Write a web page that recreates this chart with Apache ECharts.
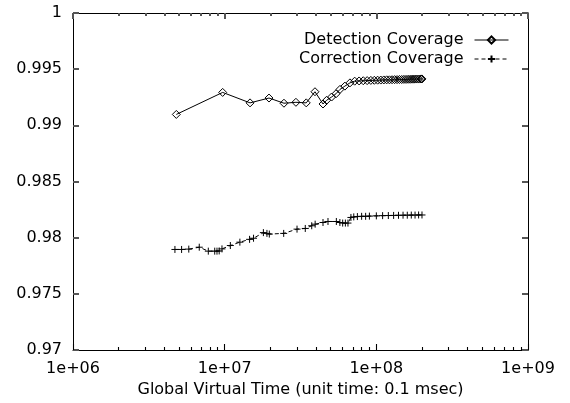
<!DOCTYPE html>
<html>
<head>
<meta charset="utf-8">
<script src="https://cdn.jsdelivr.net/npm/echarts@6/dist/echarts.min.js"></script>
<style>
  html, body { margin: 0; padding: 0; background: #fff; }
  #chart { width: 570px; height: 403px; }
</style>
</head>
<body>
<div id="chart"></div>
<script>
// Detection coverage (diamonds, solid line)
const detX = [4.8e6, 9.7e6, 1.47e7, 1.96e7, 2.46e7, 2.95e7, 3.45e7, 3.94e7, 4.45e7, 4.7e7,
  5.07e7, 5.42e7, 5.76e7, 6.2e7, 6.7e7, 7.2e7, 7.7e7, 8.2e7, 8.7e7, 9.2e7,
  9.7e7, 1.02e8, 1.07e8, 1.12e8, 1.17e8, 1.22e8, 1.27e8, 1.32e8, 1.37e8, 1.42e8,
  1.47e8, 1.52e8, 1.57e8, 1.62e8, 1.67e8, 1.72e8, 1.77e8, 1.82e8, 1.87e8, 1.92e8,
  1.97e8, 2.0e8];
const detY = [0.99097, 0.99293, 0.9920, 0.99243, 0.99197, 0.99205, 0.9920, 0.99299, 0.9919, 0.99223,
  0.99252, 0.99281, 0.9932, 0.99349, 0.99378, 0.99393, 0.99395, 0.99397, 0.99398, 0.994,
  0.99401, 0.99402, 0.99403, 0.99404, 0.99405, 0.99405, 0.99406, 0.99407, 0.99407, 0.99408,
  0.99408, 0.99409, 0.99409, 0.9941, 0.9941, 0.99411, 0.99411, 0.99412, 0.99412, 0.99412,
  0.99413, 0.99413];

// Correction coverage (plus marks, dashed line)
const corX = [4.7e6, 5.2e6, 5.8e6, 6.8e6, 7.8e6, 8.6e6, 8.9e6, 9.2e6, 9.6e6, 1.09e7,
  1.26e7, 1.46e7, 1.55e7, 1.8e7, 1.9e7, 1.97e7, 2.45e7, 3.0e7, 3.4e7, 3.75e7,
  3.95e7, 4.45e7, 4.8e7, 5.45e7, 5.75e7, 6.0e7, 6.25e7, 6.5e7, 6.8e7, 7.1e7,
  7.5e7, 8.0e7, 8.5e7, 9.0e7, 1.0e8, 1.1e8, 1.2e8, 1.3e8, 1.4e8, 1.5e8,
  1.6e8, 1.7e8, 1.8e8, 1.9e8, 2.0e8];
const corY = [0.97895, 0.97895, 0.97898, 0.97915, 0.9788, 0.9788, 0.9788, 0.97882, 0.979, 0.9793,
  0.9796, 0.97985, 0.97995, 0.98045, 0.98038, 0.98032, 0.98038, 0.98076, 0.98082, 0.98106,
  0.9812, 0.98135, 0.98144, 0.98144, 0.98135, 0.9813, 0.9813, 0.9813, 0.9818, 0.98185,
  0.98188, 0.9819, 0.9819, 0.98192, 0.98194, 0.98196, 0.98197, 0.98198, 0.98199, 0.982,
  0.982, 0.98201, 0.98201, 0.98202, 0.98202];

const majorTicksX = [1e6, 1e7, 1e8, 1e9];
const minorTicksX = [2e6, 3e6, 4e6, 5e6, 6e6, 7e6, 8e6, 9e6,
  2e7, 3e7, 4e7, 5e7, 6e7, 7e7, 8e7, 9e7,
  2e8, 3e8, 4e8, 5e8, 6e8, 7e8, 8e8, 9e8];

const FONT = 'DejaVu Sans';
const INK = '#000';
const pair = (xs, ys) => xs.map((x, i) => [x, ys[i]]);
const expLabel = (v) => '1e+' + String(Math.round(Math.log10(v))).padStart(2, '0');

// thin inside ticks only show up reliably on the bottom axis; elsewhere use 2px grey
const tick = (len, extra) => Object.assign({
  show: true, inside: true, length: len, lineStyle: { color: INK, width: 1.1 },
}, extra);
const tick2 = (len, extra) => Object.assign({
  show: true, inside: true, length: len, lineStyle: { color: '#555', width: 2 },
}, extra);
const xLog = (extra) => Object.assign({
  type: 'log', logBase: 10, min: 1e6, max: 1e9,
  axisLine: { show: false }, splitLine: { show: false }, axisLabel: { show: false },
  axisTick: { show: false },
}, extra);

const chart = echarts.init(document.getElementById('chart'), null, { renderer: 'canvas' });
chart.setOption({
  animation: false,
  backgroundColor: '#fff',
  textStyle: { fontFamily: FONT },
  grid: { left: 73, right: 42, top: 13, bottom: 49 },
  legend: {
    right: 56, top: 27, orient: 'vertical', align: 'right',
    itemWidth: 34, itemHeight: 9, itemGap: 3,
    lineStyle: { width: 1 },
    textStyle: { fontFamily: FONT, fontSize: 16, color: INK, lineHeight: 16, padding: [0, 6, 0, 0] },
    data: ['Detection Coverage', 'Correction Coverage'],
  },
  xAxis: [
    xLog({
      position: 'bottom',
      axisLine: { show: true, lineStyle: { color: INK, width: 1 } },
      axisTick: tick(6, { customValues: majorTicksX }),
      axisLabel: { show: true, customValues: majorTicksX, formatter: expLabel, color: INK, fontSize: 16, fontFamily: FONT, margin: 11 },
      name: 'Global Virtual Time (unit time: 0.1 msec)', nameLocation: 'middle', nameGap: 32,
      nameTextStyle: { color: INK, fontSize: 16, fontFamily: FONT },
    }),
    xLog({ position: 'bottom', axisTick: tick(3, { customValues: minorTicksX }) }),
    xLog({
      position: 'top',
      axisLine: { show: true, lineStyle: { color: INK, width: 1 } },
      axisTick: tick2(6, { customValues: majorTicksX }),
    }),
    xLog({ position: 'top', axisTick: tick2(3, { customValues: minorTicksX }) }),
  ],
  yAxis: [
    {
      type: 'value', position: 'left', min: 0.97, max: 1, interval: 0.005,
      axisLine: { show: true, lineStyle: { color: INK, width: 1 } },
      axisTick: tick2(6),
      splitLine: { show: false },
      axisLabel: { color: INK, fontSize: 16, fontFamily: FONT, margin: 11, formatter: (v) => String(+v.toFixed(3)) },
    },
    {
      type: 'value', position: 'right', min: 0.97, max: 1, interval: 0.005,
      axisLine: { show: true, lineStyle: { color: INK, width: 1 } },
      axisTick: tick2(6),
      splitLine: { show: false }, axisLabel: { show: false },
    },
  ],
  series: [
    {
      name: 'Detection Coverage', type: 'line', data: pair(detX, detY),
      symbol: 'diamond', symbolSize: 8, showAllSymbol: true,
      lineStyle: { color: INK, width: 1 },
      itemStyle: { color: 'rgba(255,255,255,0)', borderColor: INK, borderWidth: 1 },
    },
    {
      name: 'Correction Coverage', type: 'line', data: pair(corX, corY),
      symbol: 'path://M0,5L10,5M5,0L5,10', symbolSize: 7, showAllSymbol: true,
      lineStyle: { color: INK, width: 1, type: [4, 3] },
      itemStyle: { color: 'rgba(0,0,0,0)', borderColor: INK, borderWidth: 1 },
    },
  ],
});
</script>
</body>
</html>
